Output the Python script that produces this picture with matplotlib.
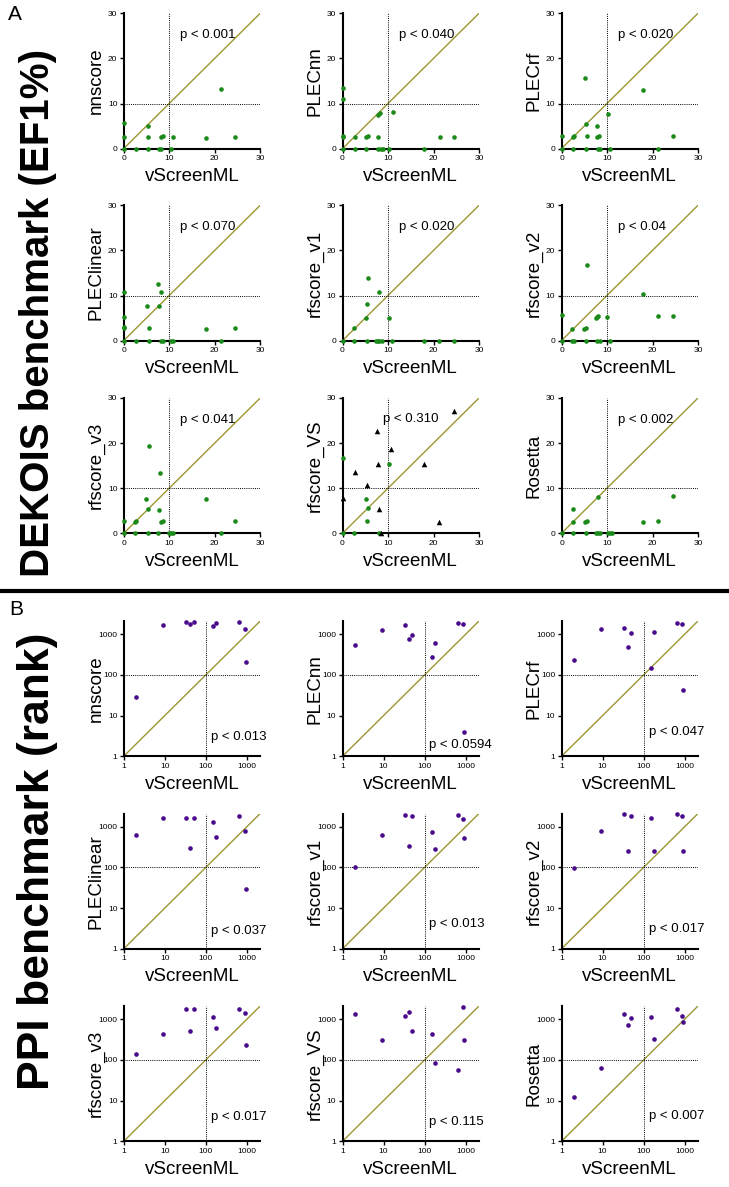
import matplotlib
matplotlib.use("Agg")
import matplotlib.pyplot as plt
from matplotlib.lines import Line2D

plt.rcParams['font.family'] = ['Liberation Sans', 'DejaVu Sans']

# ---------------- DEKOIS benchmark (EF1%) data ----------------
dekois_nnscore_x = [0, 0, 0, 5.3, 5.4, 8.1, 8.6, 10.9, 18.0, 21.4, 24.5, 2.7, 5.4, 7.8, 8.2, 10.3]
dekois_nnscore_y = [5.6, 2.6, 0, 5.0, 2.6, 2.6, 2.7, 2.6, 2.4, 13.3, 2.6, 0, 0, 0, 0, 0]

dekois_plecnn_x = [0, 0, 0, 0, 2.8, 5.2, 5.6, 7.7, 7.7, 8.2, 11.0, 21.4, 24.6, 0, 2.8, 5.2, 7.9, 8.5, 8.9, 10.2, 17.9]
dekois_plecnn_y = [13.5, 10.9, 2.9, 2.6, 2.6, 2.6, 2.7, 2.6, 7.4, 8.0, 8.1, 2.6, 2.6, 0, 0, 0, 0, 0, 0, 0, 0]

dekois_plecrf_x = [0, 2.6, 2.8, 5.2, 5.4, 5.6, 7.7, 7.7, 8.2, 10.2, 18.0, 24.4, 0, 2.6, 5.4, 8.0, 8.5, 10.7, 21.3]
dekois_plecrf_y = [2.7, 2.6, 2.7, 15.6, 5.4, 2.7, 5.1, 2.6, 2.7, 7.6, 13.0, 2.7, 0, 0, 0, 0, 0, 0, 0]

dekois_pleclinear_x = [0, 0, 0, 0, 5.2, 5.6, 7.5, 7.8, 8.1, 18.1, 24.5, 0, 2.6, 5.5, 8.1, 8.6, 10.3, 10.9, 21.3]
dekois_pleclinear_y = [10.8, 5.3, 3.0, 2.7, 7.6, 2.7, 12.5, 7.7, 10.8, 2.5, 2.7, 0, 0, 0, 0, 0, 0, 0, 0]

dekois_rfv1_x = [2.6, 5.1, 5.4, 5.6, 8.1, 10.3, 0, 2.6, 5.4, 7.4, 7.8, 8.1, 8.6, 10.8, 18.0, 21.3, 24.5]
dekois_rfv1_y = [2.7, 5.1, 8.1, 13.8, 10.8, 5.1, 0, 0, 0, 0, 0, 0, 0, 0, 0, 0, 0]

dekois_rfv2_x = [0, 2.4, 5.0, 5.4, 5.5, 7.5, 7.8, 8.1, 10.1, 18.0, 21.3, 24.4, 0, 2.4, 2.7, 5.4, 7.9, 8.5, 10.7]
dekois_rfv2_y = [5.6, 2.6, 2.5, 2.7, 16.7, 5.0, 5.2, 5.4, 5.2, 10.3, 5.4, 5.5, 0, 0, 0, 0, 0, 0, 0]

dekois_rfv3_x = [0, 2.4, 2.7, 5.0, 5.4, 5.6, 7.7, 8.0, 8.1, 8.6, 18.0, 24.5, 0, 2.5, 5.4, 7.6, 10.0, 10.5, 10.9, 21.4]
dekois_rfv3_y = [2.7, 2.5, 2.7, 7.7, 5.4, 19.3, 5.1, 13.4, 2.6, 2.7, 7.7, 2.7, 0, 0, 0, 0, 0, 0, 0, 0]

dekois_rfvs_x = [0, 0, 2.6, 5.1, 5.5, 5.4, 8.1, 10.2]
dekois_rfvs_y = [16.8, 0, 0, 7.6, 5.5, 2.7, 0, 15.4]
dekois_rfvs_tri_x = [0, 2.7, 5.4, 7.6, 7.7, 8.1, 8.5, 10.7, 18.0, 21.3, 24.4]
dekois_rfvs_tri_y = [7.9, 13.5, 10.8, 22.7, 15.4, 5.3, 0, 18.8, 15.4, 2.5, 27.2]

dekois_rosetta_x = [2.6, 2.6, 5.1, 5.5, 8.1, 18.0, 21.3, 24.6, 0, 2.6, 5.4, 7.6, 8.0, 8.5, 10.2, 10.7, 11.0]
dekois_rosetta_y = [5.4, 2.6, 2.5, 2.7, 8.1, 2.5, 2.7, 8.2, 0, 0, 0, 0, 0, 0, 0, 0, 0]

dekois_names = ["nnscore", "PLECnn", "PLECrf", "PLEClinear", "rfscore_v1", "rfscore_v2",
                "rfscore_v3", "rfscore_VS", "Rosetta"]
dekois_pvals = ["p < 0.001", "p < 0.040", "p < 0.020", "p < 0.070", "p < 0.020", "p < 0.04",
                "p < 0.041", "p < 0.310", "p < 0.002"]

# ---------------- PPI benchmark (rank) data ----------------
ppi_vscreenml = [2, 9, 33, 41, 50, 148, 180, 650, 880, 930]
ppi_nnscore = [28, 1630, 1940, 1790, 1940, 1600, 1880, 1940, 1320, 203]
ppi_plecnn = [540, 1230, 1630, 740, 940, 275, 620, 1870, 1730, 4]
ppi_plecrf = [230, 1320, 1410, 475, 1040, 145, 1140, 1900, 1790, 43]
ppi_pleclinear = [620, 1590, 1590, 302, 1630, 1300, 545, 1820, 795, 30]
ppi_rfv1 = [103, 610, 1980, 340, 1820, 740, 287, 1910, 1540, 515]
ppi_rfv2 = [95, 780, 2000, 256, 1860, 1590, 256, 2000, 1860, 246]
ppi_rfv3 = [139, 426, 1820, 500, 1820, 1100, 610, 1820, 1450, 233]
ppi_rfvs = [1300, 310, 1160, 1510, 500, 426, 82, 55, 1940, 310]
ppi_rosetta = [12, 62, 1300, 700, 1050, 1140, 325, 1740, 1200, 830]

ppi_pvals = ["p < 0.013", "p < 0.0594", "p < 0.047", "p < 0.037", "p < 0.013", "p < 0.017",
             "p < 0.017", "p < 0.115", "p < 0.007"]
ppi_ticks = [1, 10, 100, 1000]
ppi_tick_labels = ["1", "10", "100", "1000"]
dekois_ticks = [0, 10, 20, 30]

# ---------------- layout ----------------
W, H = 729, 1187
fig = plt.figure(figsize=(W / 100, H / 100), dpi=100)
fig.patch.set_facecolor("white")

GREEN = "#1b8a1b"
PURPLE = "#4a0a8c"
OLIVE = "#9c9632"

col_left = [123.7, 342.5, 561.5]
dek_top = [13.3, 205.3, 398.0]
ppi_top = [621.0, 813.5, 1006.0]
AW, AH = 136.5, 135.3


def make_ax(left, top):
    return fig.add_axes([left / W, 1 - (top + AH) / H, AW / W, AH / H])


def style(ax, ylabel):
    for s in ("top", "right"):
        ax.spines[s].set_visible(False)
    for s in ("left", "bottom"):
        ax.spines[s].set_linewidth(1.5)
    ax.tick_params(axis="both", which="major", length=3, width=1, labelsize=6, pad=1.5,
                   direction="out")
    ax.tick_params(axis="both", which="minor", length=0)
    ax.set_xlabel("vScreenML", fontsize=13.5)
    ax.set_ylabel(ylabel, fontsize=13.5)
    ax.xaxis.set_label_coords(0.5, -0.145)
    ax.yaxis.set_label_coords(-0.14, 0.5)
    ax.patch.set_alpha(0)


dek_series = [
    (dekois_nnscore_x, dekois_nnscore_y),
    (dekois_plecnn_x, dekois_plecnn_y),
    (dekois_plecrf_x, dekois_plecrf_y),
    (dekois_pleclinear_x, dekois_pleclinear_y),
    (dekois_rfv1_x, dekois_rfv1_y),
    (dekois_rfv2_x, dekois_rfv2_y),
    (dekois_rfv3_x, dekois_rfv3_y),
    (dekois_rfvs_x, dekois_rfvs_y),
    (dekois_rosetta_x, dekois_rosetta_y),
]

for i, (xs, ys) in enumerate(dek_series):
    ax = make_ax(col_left[i % 3], dek_top[i // 3])
    ax.set_xlim(0, 30)
    ax.set_ylim(0, 30)
    ax.plot([0, 30], [0, 30], color=OLIVE, lw=1.0, zorder=1)
    ax.axvline(10, color="k", lw=0.7, ls=(0, (1, 1.2)), zorder=1)
    ax.axhline(10, color="k", lw=0.7, ls=(0, (1, 1.2)), zorder=1)
    ax.scatter(xs, ys, s=11, color=GREEN, linewidths=0, zorder=4, clip_on=False)
    if dekois_names[i] == "rfscore_VS":
        ax.scatter(dekois_rfvs_tri_x, dekois_rfvs_tri_y, s=16, marker="^", color="black",
                   linewidths=0, zorder=4, clip_on=False)
        ax.text(9.0, 25.3, dekois_pvals[i], fontsize=9.5, va="center", ha="left")
    else:
        ax.text(12.4, 25.1, dekois_pvals[i], fontsize=9.5, va="center", ha="left")
    ax.set_xticks(dekois_ticks)
    ax.set_yticks(dekois_ticks)
    style(ax, dekois_names[i])

ppi_series = [ppi_nnscore, ppi_plecnn, ppi_plecrf, ppi_pleclinear, ppi_rfv1, ppi_rfv2,
              ppi_rfv3, ppi_rfvs, ppi_rosetta]
ppi_text_pos = [(137, 2.95), (131, 1.9), (137, 3.9), (137, 2.8), (131, 4.0), (137, 3.1),
                (137, 4.0), (131, 3.0), (137, 4.2)]

for i, ys in enumerate(ppi_series):
    ax = make_ax(col_left[i % 3], ppi_top[i // 3])
    ax.set_xscale("log")
    ax.set_yscale("log")
    ax.set_xlim(1, 2100)
    ax.set_ylim(1, 2100)
    ax.plot([1, 2100], [1, 2100], color=OLIVE, lw=1.0, zorder=1)
    ax.axvline(100, color="k", lw=0.7, ls=(0, (1, 1.2)), zorder=1)
    ax.axhline(100, color="k", lw=0.7, ls=(0, (1, 1.2)), zorder=1)
    ax.scatter(ppi_vscreenml, ys, s=11, color=PURPLE, linewidths=0, zorder=4, clip_on=False)
    tx, ty = ppi_text_pos[i]
    ax.text(tx, ty, ppi_pvals[i], fontsize=9.5, va="center", ha="left")
    ax.set_xticks(ppi_ticks)
    ax.set_xticklabels(ppi_tick_labels)
    ax.set_yticks(ppi_ticks)
    ax.set_yticklabels(ppi_tick_labels)
    ax.minorticks_off()
    names = dekois_names
    style(ax, names[i])

# big section titles
fig.text(38 / W, 1 - 313 / H, "DEKOIS benchmark (EF1%)", rotation=90, fontsize=29,
         fontweight="bold", ha="center", va="center")
fig.text(38 / W, 1 - 861 / H, "PPI benchmark (rank)", rotation=90, fontsize=32,
         fontweight="bold", ha="center", va="center")

fig.text(8 / W, 1 - 20 / H, "A", fontsize=15, ha="left", va="baseline")
fig.text(9 / W, 1 - 615 / H, "B", fontsize=15, ha="left", va="baseline")

fig.add_artist(Line2D([0, 1], [1 - 591 / H, 1 - 591 / H], transform=fig.transFigure,
                      color="black", lw=3.0))

fig.savefig("out.png", dpi=100)
